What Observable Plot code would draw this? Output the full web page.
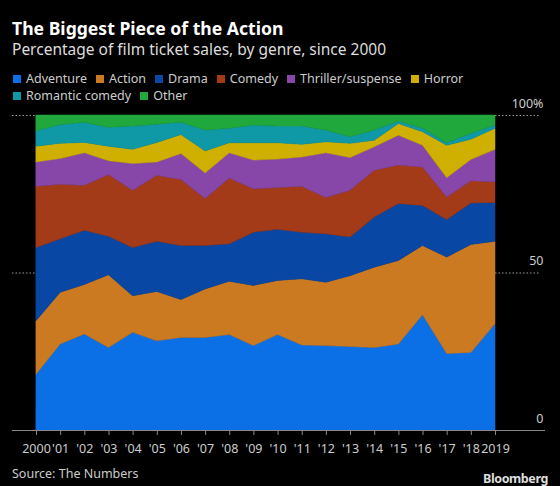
<!DOCTYPE html>
<html>
<head>
<meta charset="utf-8">
<script src="https://cdn.jsdelivr.net/npm/d3@7"></script>
<script src="https://cdn.jsdelivr.net/npm/@observablehq/plot@0.6"></script>
<style>
  html, body { margin: 0; padding: 0; background: #000; }
  #wrap { position: relative; width: 560px; height: 486px; background: #000; font-family: "Noto Sans", sans-serif; overflow: hidden; }
  #title { position: absolute; left: 12px; top: 19px; color: #fff; font-weight: 700; font-size: 17.6px; line-height: 18px; white-space: nowrap; }
  #subtitle { position: absolute; left: 12px; top: 41px; color: #ddd; font-size: 15.5px; line-height: 16px; white-space: nowrap; }
  #legend { position: absolute; left: 13px; top: 70px; width: 520px; color: #ccc; font-size: 12.5px; line-height: 17px; z-index: 2; }
  .item { display: inline-block; margin-right: 9px; white-space: nowrap; }
  .sw { display: inline-block; width: 8px; height: 8px; margin-right: 5px; vertical-align: 0px; }
  #chart { position: absolute; left: 0; top: 90px; z-index: 1; }
  #source { position: absolute; left: 12px; top: 465px; color: #ccc; font-size: 12.5px; }
  #brand { position: absolute; right: 12px; top: 470px; color: #ddd; font-size: 12.5px; font-weight: 700; letter-spacing: -0.4px; }
</style>
</head>
<body>
<div id="wrap">
  <div id="title">The Biggest Piece of the Action</div>
  <div id="subtitle">Percentage of film ticket sales, by genre, since 2000</div>
  <div id="chart"></div>
  <div id="legend"></div>
  <div id="source">Source: The Numbers</div>
  <div id="brand">Bloomberg</div>
</div>
<script>
const years = [2000, 2001, 2002, 2003, 2004, 2005, 2006, 2007, 2008, 2009,
               2010, 2011, 2012, 2013, 2014, 2015, 2016, 2017, 2018, 2019];
const genres = ["Adventure", "Action", "Drama", "Comedy", "Thriller/suspense", "Horror", "Romantic comedy", "Other"];
const colors = ["#0b6fe6", "#cc7a22", "#0847a3", "#a33b19", "#8747a8", "#cfb000", "#0f98a6", "#21a83d"];

const adventure = [17.7, 27.3, 30.5, 26.2, 31.0, 28.3, 29.4, 29.4, 30.3, 26.8, 30.3, 27.0, 26.8, 26.5, 26.2, 27.3, 36.6, 24.3, 24.6, 33.7];
const action    = [17.0, 16.4, 15.7, 23.1, 11.6, 15.7, 12.0, 15.4, 16.9, 19.1, 17.2, 21.0, 20.1, 22.5, 25.5, 26.5, 22.0, 30.6, 34.3, 26.2];
const drama     = [23.2, 17.0, 17.2, 12.2, 15.3, 15.9, 17.2, 13.8, 11.9, 16.9, 16.2, 14.8, 15.4, 12.3, 15.9, 18.1, 12.7, 11.9, 13.2, 12.3];
const comedy    = [19.5, 17.3, 14.3, 19.6, 18.2, 21.0, 20.9, 14.9, 20.9, 13.8, 13.3, 14.6, 11.5, 14.8, 14.9, 12.2, 12.2, 7.2, 7.0, 6.6];
const thriller  = [7.7, 8.2, 10.3, 4.4, 8.5, 4.2, 8.3, 8.1, 8.0, 9.1, 9.0, 9.3, 14.2, 10.4, 7.4, 9.5, 6.9, 6.1, 6.8, 10.3];
const horror    = [5.0, 4.8, 3.3, 4.6, 4.5, 6.2, 6.0, 7.0, 3.2, 5.5, 5.2, 4.0, 3.5, 4.5, 2.1, 3.7, 4.3, 10.3, 6.4, 6.7];
const romcom    = [4.9, 6.0, 6.4, 6.0, 7.4, 5.8, 3.9, 6.6, 4.6, 5.6, 5.3, 5.8, 3.7, 2.1, 3.2, 0.8, 1.1, 0.8, 1.9, 1.0];
const other     = [5.0, 3.0, 2.3, 3.9, 3.5, 2.9, 2.3, 4.8, 4.2, 3.2, 3.5, 3.5, 4.8, 6.9, 4.8, 1.9, 4.2, 8.8, 5.8, 3.2];

const yTicks = [0, 50, 100];

const series = [adventure, action, drama, comedy, thriller, horror, romcom, other];
const data = [];
genres.forEach((g, gi) => {
  years.forEach((yr, i) => data.push({year: yr, genre: g, share: series[gi][i]}));
});

// legend
const legend = document.getElementById("legend");
genres.forEach((g, i) => {
  const span = document.createElement("span");
  span.className = "item";
  span.innerHTML = `<span class="sw" style="background:${colors[i]}"></span>${g}`;
  legend.appendChild(span);
  if (g === "Horror") legend.appendChild(document.createElement("br"));
});

const chart = Plot.plot({
  width: 560,
  height: 370,
  marginLeft: 36,
  marginRight: 65,
  marginTop: 25,
  marginBottom: 30,
  style: {background: "transparent", color: "#ccc", fontFamily: "Noto Sans, sans-serif", fontSize: "12.5px"},
  x: {domain: [2000, 2019], ticks: years, label: null},
  y: {domain: [0, 100], label: null},
  color: {domain: genres, range: colors},
  marks: [
    Plot.ruleY(yTicks.filter(d => d > 0), {stroke: "#999", strokeDasharray: "1.5,2", insetLeft: -24, insetRight: -45}),
    Plot.areaY(data, Plot.stackY({x: "year", y: "share", fill: "genre", order: genres, stroke: "genre", strokeWidth: 0.5})),
    Plot.ruleY([0], {stroke: "#888", insetLeft: -24, insetRight: -50}),
    Plot.axisX({ticks: years, tickSize: 5, stroke: "#888", tickPadding: 9, fill: "#ccc",
      tickFormat: d => (d === 2000 || d === 2019) ? String(d) : "'" + String(d).slice(2), label: null}),
    Plot.axisY({anchor: "right", ticks: yTicks, tickSize: 0, tickPadding: 0, textAnchor: "end", dx: 48, dy: -12,
      fill: "#ccc", tickFormat: d => d === 100 ? "100%" : String(d), label: null})
  ]
});
document.getElementById("chart").appendChild(chart);
</script>
</body>
</html>
